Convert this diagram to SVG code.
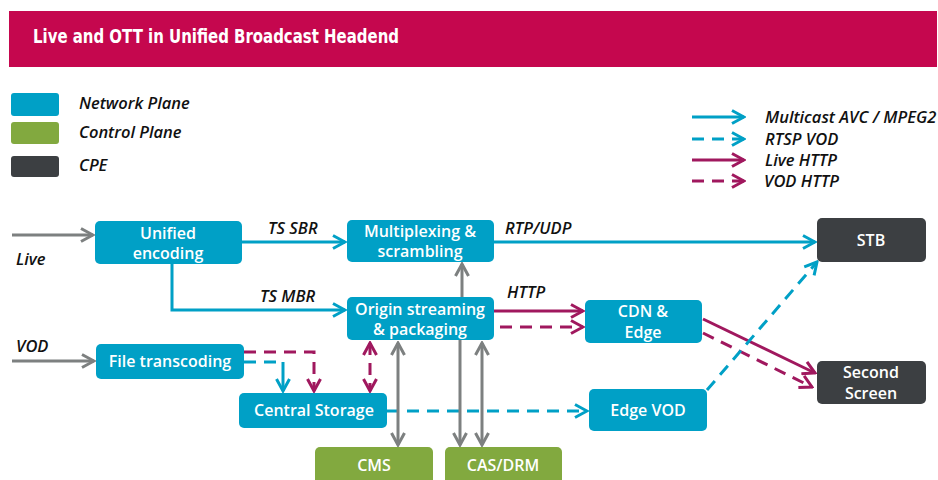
<svg xmlns="http://www.w3.org/2000/svg" width="938" height="480" viewBox="0 0 938 480">
<defs>
<style>
.blue{fill:#00A0C6}
.green{fill:#82A93F}
.dark{fill:#3C3F42}
.nt{font-family:"Open Sans","DejaVu Sans",sans-serif;font-weight:600;font-size:16px;fill:#fff;text-anchor:middle}
.it{font-family:"Open Sans","DejaVu Sans",sans-serif;font-style:italic;font-weight:600;font-size:16.5px;fill:#111}
.lb{fill:none;stroke:#00A0C6;stroke-width:3}
.lg{fill:none;stroke:#7D8080;stroke-width:3}
.lm{fill:none;stroke:#A0185E;stroke-width:3}
.dash{stroke-dasharray:12 8}
</style>
<marker id="ab" viewBox="0 0 16 16" refX="14" refY="8" markerWidth="16" markerHeight="16" markerUnits="userSpaceOnUse" orient="auto-start-reverse"><path d="M2,1.5 L14,8 L2,14.5" fill="none" stroke="#00A0C6" stroke-width="3"/></marker>
<marker id="ag" viewBox="0 0 16 16" refX="14" refY="8" markerWidth="16" markerHeight="16" markerUnits="userSpaceOnUse" orient="auto-start-reverse"><path d="M2,1.5 L14,8 L2,14.5" fill="none" stroke="#7D8080" stroke-width="3"/></marker>
<marker id="am" viewBox="0 0 16 16" refX="14" refY="8" markerWidth="16" markerHeight="16" markerUnits="userSpaceOnUse" orient="auto-start-reverse"><path d="M2,1.5 L14,8 L2,14.5" fill="none" stroke="#A0185E" stroke-width="3"/></marker>
</defs>
<rect width="938" height="480" fill="#fff"/>
<g id="header">
<rect x="9" y="11" width="928" height="56" fill="#C5074E"/>
<text x="33" y="43" font-family="'DejaVu Sans Condensed','DejaVu Sans',sans-serif" font-stretch="condensed" font-weight="bold" font-size="20" fill="#fff" textLength="366" lengthAdjust="spacingAndGlyphs">Live and OTT in Unified Broadcast Headend</text>
</g>
<g id="legend">
<rect x="11" y="93" width="48" height="23" rx="3" class="blue"/>
<rect x="11" y="122" width="48" height="22" rx="3" class="green"/>
<rect x="11" y="156" width="48" height="21" rx="3" class="dark"/>
<text x="79" y="109" class="it">Network Plane</text>
<text x="79" y="138" class="it">Control Plane</text>
<text x="79" y="171" class="it">CPE</text>
<line x1="692" y1="117" x2="744" y2="117" class="lb" marker-end="url(#ab)"/>
<line x1="692" y1="139" x2="744" y2="139" class="lb dash" marker-end="url(#ab)"/>
<line x1="692" y1="160" x2="744" y2="160" class="lm" marker-end="url(#am)"/>
<line x1="692" y1="181" x2="744" y2="181" class="lm dash" marker-end="url(#am)"/>
<text x="765" y="123" class="it">Multicast AVC / MPEG2</text>
<text x="765" y="145" class="it">RTSP VOD</text>
<text x="765" y="166" class="it">Live HTTP</text>
<text x="764" y="187" class="it">VOD HTTP</text>
</g>
<g id="connectors">
<line x1="12" y1="235" x2="93" y2="235" class="lg" marker-end="url(#ag)"/>
<line x1="12" y1="361" x2="94" y2="361" class="lg" marker-end="url(#ag)"/>
<line x1="242" y1="242" x2="345" y2="242" class="lb" marker-end="url(#ab)"/>
<polyline points="172,264 172,310 345,310" class="lb" marker-end="url(#ab)"/>
<line x1="462" y1="297" x2="462" y2="264" class="lg" marker-end="url(#ag)"/>
<line x1="494" y1="242" x2="815" y2="242" class="lb" marker-end="url(#ab)"/>
<line x1="494" y1="311" x2="583" y2="311" class="lm" marker-end="url(#am)"/>
<line x1="500" y1="327" x2="583" y2="327" class="lm dash" marker-end="url(#am)"/>
<line x1="703" y1="319" x2="815" y2="373" class="lm" marker-end="url(#am)"/>
<line x1="703" y1="333" x2="812" y2="387" class="lm dash" marker-end="url(#am)"/>
<line x1="707" y1="390" x2="817" y2="262" class="lb dash" marker-end="url(#ab)"/>
<line x1="387" y1="411" x2="587" y2="411" class="lb dash" marker-end="url(#ab)"/>
<polyline points="244,362 283,362" class="lb dash"/>
<line x1="283" y1="362" x2="283" y2="391" class="lb" marker-end="url(#ab)"/>
<polyline points="244,352 314,352 314,391" class="lm dash" marker-end="url(#am)"/>
<line x1="370" y1="343" x2="370" y2="391" class="lm dash" marker-start="url(#am)" marker-end="url(#am)"/>
<line x1="398" y1="343" x2="398" y2="445" class="lg" marker-start="url(#ag)" marker-end="url(#ag)"/>
<line x1="460" y1="340" x2="460" y2="445" class="lg" marker-end="url(#ag)"/>
<line x1="482" y1="343" x2="482" y2="445" class="lg" marker-start="url(#ag)" marker-end="url(#ag)"/>
<text x="268" y="234" class="it">TS SBR</text>
<text x="260" y="302" class="it">TS MBR</text>
<text x="505" y="234" class="it">RTP/UDP</text>
<text x="507" y="298" class="it">HTTP</text>
<text x="16" y="265" class="it">Live</text>
<text x="16" y="352" class="it">VOD</text>
</g>
<g id="unified-encoding">
<rect x="95" y="221" width="147" height="43" rx="5" class="blue"/>
<text x="168" y="239" class="nt">Unified</text>
<text x="168" y="259" class="nt">encoding</text>
</g>
<g id="multiplexing">
<rect x="347" y="220" width="147" height="42" rx="5" class="blue"/>
<text x="420" y="237" class="nt">Multiplexing &amp;</text>
<text x="420" y="257" class="nt">scrambling</text>
</g>
<g id="origin">
<rect x="347" y="297" width="147" height="43" rx="5" class="blue"/>
<text x="420" y="315" class="nt">Origin streaming</text>
<text x="420" y="335" class="nt">&amp; packaging</text>
</g>
<g id="cdn-edge">
<rect x="585" y="300" width="117" height="43" rx="5" class="blue"/>
<text x="643" y="317" class="nt">CDN &amp;</text>
<text x="643" y="338" class="nt">Edge</text>
</g>
<g id="stb">
<rect x="817" y="218" width="109" height="44" rx="5" class="dark"/>
<text x="871" y="246" class="nt">STB</text>
</g>
<g id="second-screen">
<rect x="817" y="361" width="109" height="43" rx="5" class="dark"/>
<text x="871" y="378" class="nt">Second</text>
<text x="871" y="399" class="nt">Screen</text>
</g>
<g id="file-transcoding">
<rect x="96" y="344" width="148" height="35" rx="5" class="blue"/>
<text x="170" y="367" class="nt">File transcoding</text>
</g>
<g id="central-storage">
<rect x="239" y="393" width="148" height="35" rx="5" class="blue"/>
<text x="314" y="416" class="nt">Central Storage</text>
</g>
<g id="edge-vod">
<rect x="589" y="389" width="118" height="42" rx="5" class="blue"/>
<text x="648" y="416" class="nt">Edge VOD</text>
</g>
<g id="cms">
<rect x="315" y="447" width="118" height="40" rx="5" class="green"/>
<text x="374" y="471" class="nt">CMS</text>
</g>
<g id="cas-drm">
<rect x="445" y="447" width="117" height="40" rx="5" class="green"/>
<text x="503" y="471" class="nt">CAS/DRM</text>
</g>
</svg>
